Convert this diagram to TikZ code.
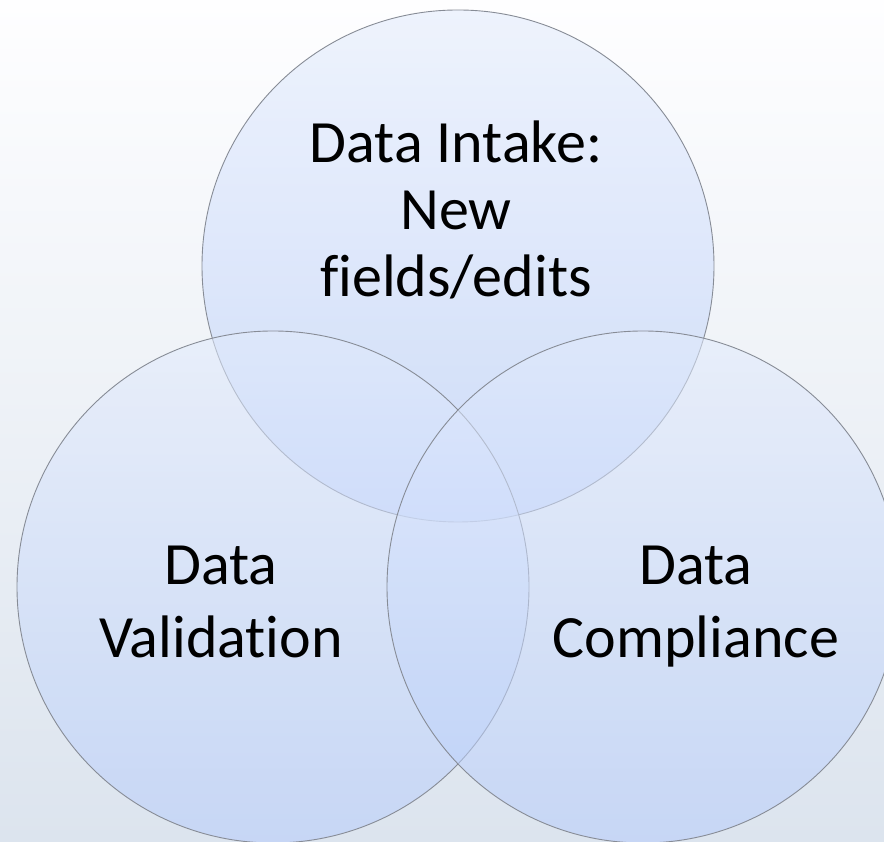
\documentclass[tikz,border=0pt]{standalone}
\usepackage{fontspec}
\setmainfont[Ligatures=NoCommon]{Carlito}
\definecolor{bgtop}{RGB}{254,254,255}
\definecolor{bgbottom}{RGB}{220,228,238}
\definecolor{venntop}{RGB}{226,235,252}
\definecolor{vennbottom}{RGB}{182,204,251}
\definecolor{vennline}{RGB}{135,140,150}

\begin{document}
\begin{tikzpicture}[
    x=1pt, y=1pt,
    venn/.style={
        circle,
        minimum size=512pt,
        inner sep=0pt,
        draw=vennline,
        line width=0.9pt,
        top color=venntop,
        bottom color=vennbottom,
        fill opacity=0.55,
        draw opacity=1
    },
    venntext/.style={
        align=center,
        anchor=base,
        inner sep=0pt,
        font=\fontsize{60pt}{#1}\selectfont
    }
]

% background
\shade[top color=bgtop, bottom color=bgbottom] (0,0) rectangle (884,842);
\useasboundingbox (0,0) rectangle (884,842);

\node[venn] (intake) at (458,576) {};
\node[venn] (validation) at (273,255) {};
\node[venn] (compliance) at (643,255) {};

% base anchor sits on the last line
\node[venntext=67pt] (intaketext) at (456,545) {Data Intake:\\New\\fields/edits};
\node[venntext=73pt] (validationtext) at (221,184) {Data\\Validation};
\node[venntext=73pt] (compliancetext) at (696,184) {Data\\Compliance};

\end{tikzpicture}
\end{document}
